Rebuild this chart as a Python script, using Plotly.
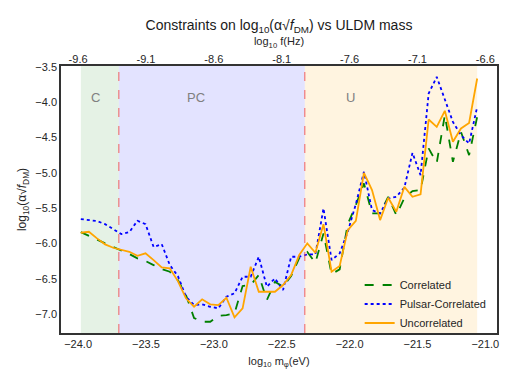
import numpy as np
import plotly.graph_objects as go

# log10 mass grid (eV)
n_points = 50
log_m = np.linspace(-23.98, -21.06, n_points)

correlated = [-5.838, -5.887, -5.943, -5.997, -6.045, -6.092, -6.148, -6.209, -6.247, -6.304,
              -6.360, -6.398, -6.516, -6.727, -7.052, -7.105, -7.105, -7.020, -7.010, -6.986,
              -6.600, -6.586, -6.445, -6.798, -6.540, -6.610, -6.459, -6.205, -6.120, -6.271,
              -5.856, -6.431, -6.364, -5.725, -5.456, -5.150, -5.573, -5.573, -5.339, -5.597,
              -5.357, -5.258, -5.244, -4.655, -4.859, -4.185, -4.845, -4.421, -4.750, -4.209]

pulsar_correlated = [-5.654, -5.668, -5.682, -5.725, -5.795, -5.866, -5.838, -5.678, -5.725, -6.049,
                     -6.007, -6.304, -6.459, -6.751, -6.869, -6.859, -6.893, -6.915, -6.751, -6.703,
                     -6.469, -6.469, -6.186, -6.610, -6.492, -6.657, -6.186, -6.186, -6.153, -6.153,
                     -5.503, -6.233, -6.138, -5.833, -5.442, -4.986, -5.527, -5.573, -5.362, -5.339,
                     -5.209, -4.718, -5.032, -3.879, -3.644, -3.973, -4.280, -4.468, -4.585, -4.068]

uncorrelated = [-5.847, -5.833, -5.927, -6.011, -6.059, -6.092, -6.116, -6.172, -6.138, -6.233,
                -6.336, -6.350, -6.530, -6.774, -6.893, -6.788, -6.859, -6.869, -6.766, -7.042,
                -6.915, -6.328, -6.681, -6.681, -6.681, -6.586, -6.445, -6.162, -5.997, -6.130,
                -5.725, -6.398, -6.318, -5.809, -5.678, -5.000, -5.244, -5.668, -5.353, -5.551,
                -5.198, -5.339, -5.305, -4.246, -4.350, -4.124, -4.562, -4.373, -4.294, -3.667]

# region boundaries
region_edges = [-23.98, -23.70, -22.33, -21.06]
region_names = ["C", "PC", "U"]
region_label_x = [-23.87, -23.13, -21.99]
region_colors = ["rgba(0,128,0,0.1)", "rgba(0,0,255,0.11)", "rgba(255,165,0,0.12)"]

bottom_ticks = [-24.0, -23.5, -23.0, -22.5, -22.0, -21.5, -21.0]
top_tick_labels = ["-9.6", "-9.1", "-8.6", "-8.1", "-7.6", "-7.1", "-6.6"]
y_ticks = [-7.0, -6.5, -6.0, -5.5, -5.0, -4.5, -4.0, -3.5]

x_range = [-24.126, -20.914]
y_range = [-7.264, -3.49]

font_family = "Liberation Sans, Arial, sans-serif"

fig = go.Figure()

for i in range(3):
    fig.add_vrect(x0=region_edges[i], x1=region_edges[i + 1], fillcolor=region_colors[i],
                  line_width=0, layer="below")
    fig.add_annotation(x=region_label_x[i], y=-3.93, text=region_names[i], showarrow=False,
                       font=dict(size=13, color="#808080"))

for xv in region_edges[1:3]:
    fig.add_vline(x=xv, line=dict(color="rgba(240,80,80,0.75)", width=1.2, dash="dash"))

fig.add_trace(go.Scatter(x=log_m, y=correlated, mode="lines", name="Correlated",
                         line=dict(color="green", width=1.8, dash="dash")))
fig.add_trace(go.Scatter(x=log_m, y=pulsar_correlated, mode="lines", name="Pulsar-Correlated",
                         line=dict(color="blue", width=1.8, dash="dot")))
fig.add_trace(go.Scatter(x=log_m, y=uncorrelated, mode="lines", name="Uncorrelated",
                         line=dict(color="orange", width=1.8)))

# invisible trace to carry the top (frequency) axis
fig.add_trace(go.Scatter(x=[x_range[0]], y=[y_range[0]], xaxis="x2", mode="markers",
                         marker=dict(opacity=0), showlegend=False, hoverinfo="skip"))

# the page body has an 8px margin, so the figure is 8px smaller on each axis
fig.update_layout(
    width=500, height=373,
    margin=dict(l=53, r=11, t=58, b=48),
    paper_bgcolor="white", plot_bgcolor="white",
    font=dict(family=font_family, size=11, color="#262626"),
    title=dict(text="Constraints on log<sub>10</sub>(α√<i>f</i><sub>DM</sub>) vs ULDM mass",
               x=0.5, xref="paper", xanchor="center", y=0.955, yanchor="middle",
               font=dict(size=14, color="#1a1a1a")),
    xaxis=dict(range=x_range, tickvals=bottom_ticks, tickformat=".1f", automargin=False,
               showgrid=False, zeroline=False, showline=True, mirror=True,
               linecolor="#333333", linewidth=1.5, ticks="",
               title=dict(text="log<sub>10</sub> m<sub>φ</sub>(eV)", standoff=8, font=dict(size=11))),
    xaxis2=dict(range=x_range, overlaying="x", side="top", tickvals=bottom_ticks, automargin=False,
                ticktext=top_tick_labels, showgrid=False, zeroline=False, ticks="",
                title=dict(text="log<sub>10</sub> f(Hz)", standoff=4, font=dict(size=11))),
    yaxis=dict(range=y_range, tickvals=y_ticks, tickformat=".1f", automargin=False,
               showgrid=False, zeroline=False, showline=True, mirror=True,
               linecolor="#333333", linewidth=1.5, ticks="",
               title=dict(text="log<sub>10</sub>(α√<i>f</i><sub>DM</sub>)", standoff=6, font=dict(size=12))),
    legend=dict(x=0.685, y=0.234, xanchor="left", yanchor="top", bgcolor="rgba(0,0,0,0)",
                font=dict(size=11), tracegroupgap=0, itemwidth=30),
)

fig.write_html("out.html")
